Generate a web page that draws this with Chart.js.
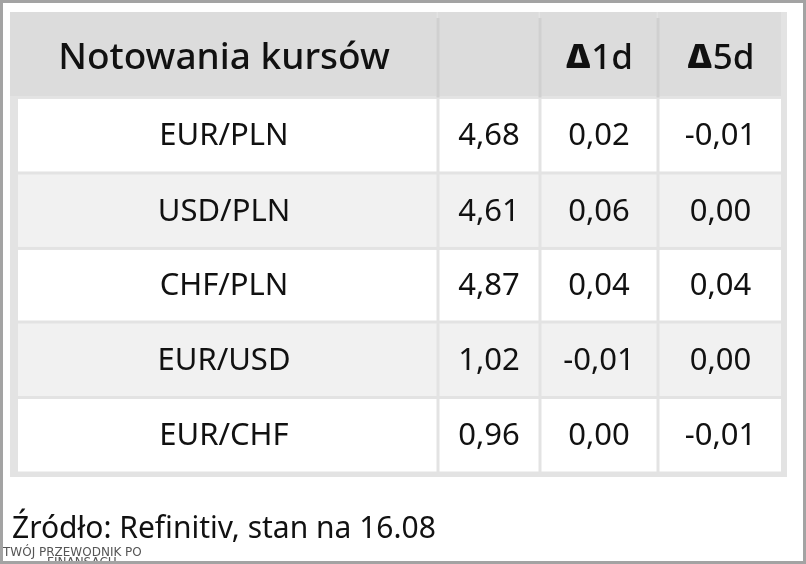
<!DOCTYPE html>
<html><head><meta charset="utf-8">
<script src="https://cdn.jsdelivr.net/npm/chart.js@4"></script>
<style>
html,body{margin:0;padding:0;background:#fff}
#wrap{position:relative;width:800px;height:558px;border:3px solid #a3a3a3}
</style></head>
<body>
<div id="wrap"><canvas id="c"></canvas></div>
<script>
const headers = ['Notowania kursów', '', 'Δ1d', 'Δ5d'];
const pairs = ['EUR/PLN', 'USD/PLN', 'CHF/PLN', 'EUR/USD', 'EUR/CHF'];
const rates = ['4,68', '4,61', '4,87', '1,02', '0,96'];
const change1d = ['0,02', '0,06', '0,04', '-0,01', '0,00'];
const change5d = ['-0,01', '0,00', '0,04', '0,00', '-0,01'];
const source = 'Źródło: Refinitiv, stan na 16.08';

// layout (table units)
const colEdges = [0, 428, 530, 648, 777];
const rowEdges = [0, 86, 162, 238, 312, 388, 464];
const FONT = '"Noto Sans", sans-serif';

const tablePlugin = {
  id: 'table',
  beforeDraw(chart) {
    const {ctx, scales: {x, y}} = chart;
    const rows = [headers].concat(pairs.map((p, i) => [p, rates[i], change1d[i], change5d[i]]));
    ctx.save();
    ctx.fillStyle = '#e3e3e3';
    ctx.fillRect(x.getPixelForValue(0), y.getPixelForValue(0),
      x.getPixelForValue(777) - x.getPixelForValue(0), y.getPixelForValue(464) - y.getPixelForValue(0) + 4);
    rows.forEach((r, ri) => {
      const y0 = y.getPixelForValue(rowEdges[ri]), y1 = y.getPixelForValue(rowEdges[ri + 1]);
      r.forEach((txt, ci) => {
        const x0 = x.getPixelForValue(colEdges[ci]), x1 = x.getPixelForValue(colEdges[ci + 1]);
        ctx.fillStyle = ri === 0 ? '#dcdcdc' : (ri % 2 ? '#ffffff' : '#f1f1f1');
        const gl = ri === 0 ? 0 : (ci === 0 ? 8 : 1.5);
        const gr = ci === 3 ? 6 : 1.5;
        const gt = ri === 0 ? 0 : 1.5;
        ctx.fillRect(x0 + gl, y0 + gt, x1 - x0 - gl - gr, y1 - y0 - gt - 1.5);
        if (ri === 0 && ci > 0) {
          ctx.fillStyle = '#d0d0d0';
          ctx.fillRect(x0 - 1.5, y0 + 6, 3, y1 - y0 - 6);
        }
        ctx.fillStyle = '#111';
        ctx.textBaseline = 'middle';
        ctx.textAlign = 'center';
        const cx = (x0 + x1) / 2 - (ci === 3 ? 2 : 0), cy = (y0 + y1) / 2 + (ri === 0 ? 4 : 0);
        if (ri === 0) {
          if (txt.startsWith('Δ')) {
            ctx.font = '900 34px ' + FONT;
            const w1 = ctx.measureText('Δ').width;
            ctx.font = '500 35px ' + FONT;
            const w2 = ctx.measureText(txt.slice(1)).width;
            const sx = cx - (w1 + w2) / 2;
            ctx.textAlign = 'left';
            ctx.font = '900 34px ' + FONT;
            ctx.fillText('Δ', sx, cy);
            ctx.font = '500 35px ' + FONT;
            ctx.fillText(txt.slice(1), sx + w1 + 1, cy);
          } else {
            ctx.font = '500 37px ' + FONT;
            ctx.fillText(txt, cx, cy);
          }
        } else {
          ctx.font = '31px ' + FONT;
          ctx.fillText(txt, cx, cy + 1);
        }
      });
    });
    ctx.fillStyle = '#111';
    ctx.textAlign = 'left';
    ctx.textBaseline = 'alphabetic';
    ctx.font = '30px ' + FONT;
    ctx.fillText(source, 9, 535);
    ctx.fillStyle = '#555';
    ctx.font = '12px "DejaVu Sans", sans-serif';
    ctx.fillText('TWÓJ PRZEWODNIK PO', 0, 553);
    ctx.fillText('FINANSACH', 44, 563);
    ctx.restore();
  }
};

new Chart(document.getElementById('c'), {
  type: 'scatter',
  data: { datasets: [{ data: [] }] },
  options: {
    responsive: true, maintainAspectRatio: false, animation: false,
    layout: { padding: { left: 7, right: 16, top: 9, bottom: 88 } },
    plugins: { legend: { display: false }, tooltip: { enabled: false } },
    scales: {
      x: { type: 'linear', min: 0, max: 777, display: false },
      y: { type: 'linear', min: 0, max: 464, reverse: true, display: false }
    }
  },
  plugins: [tablePlugin]
});
</script>
</body></html>
